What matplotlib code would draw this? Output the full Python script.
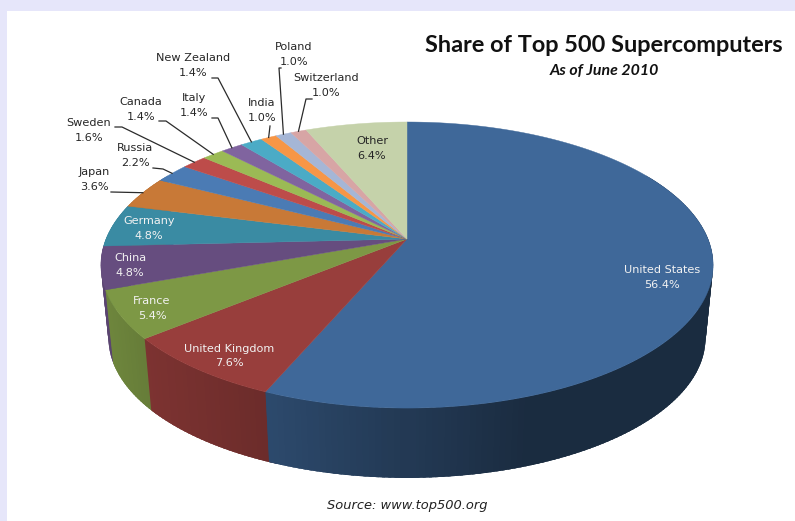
import numpy as np
import matplotlib
matplotlib.use("Agg")
import matplotlib.pyplot as plt
from matplotlib.patches import Rectangle

# Share of the Top 500 list by country, clockwise from 12 o'clock
countries = ['United States', 'United Kingdom', 'France', 'China', 'Germany', 'Japan', 'Russia',
             'Sweden', 'Canada', 'Italy', 'New Zealand', 'India', 'Poland', 'Switzerland', 'Other']
shares = [56.4, 7.6, 5.4, 4.8, 4.8, 3.6, 2.2, 1.6, 1.4, 1.4, 1.4, 1.0, 1.0, 1.0, 6.4]

top_colors = ['#3f6899', '#983e3c', '#7d9845', '#664d7f', '#3a8ba3', '#c87937', '#4b7bb4',
              '#bd4c4a', '#9bba55', '#80649f', '#4babc6', '#f79646', '#a5b6d6', '#d7a5a5', '#c5d2aa']

# label centres in pixels
label_x = [662, 229, 152, 130, 149, 94, 135, 89, 141, 194, 193, 262, 294, 326, 372]
label_y = [277.5, 356, 308.5, 265.5, 228.5, 179.5, 155.5, 130.5, 109.5, 105.5, 65.5, 110.5, 54.5, 85.5, 148.5]
label_white = ['United States', 'United Kingdom', 'France', 'China', 'Germany']

# leader line elbows for the small slices, the last point is added from the slice itself
leaders = {
    'Japan': [(111, 192)],
    'Russia': [(153, 168), (163, 169)],
    'Sweden': [(115, 127), (122, 127)],
    'Canada': [(159, 121), (166, 121)],
    'Italy': [(212, 118), (218, 118)],
    'New Zealand': [(212, 78), (218, 78)],
    'India': [(270, 126)],
    'Poland': [(281, 68), (279, 68)],
    'Switzerland': [(312, 99), (306, 99)],
}

# projection of the tilted disc
CX, CY = 407, 239
RX, RY = 301, 138.3
PERSP = 0.182
WALL_SCALE = 0.975
WALL_DROP = 74


def rim(theta_deg, r=1.0):
    t = np.radians(theta_deg)
    x = r * np.sin(t)
    y = r * np.cos(t)
    w = 1 + PERSP * y
    return CX + RX * x / w, CY - RY * y / w


def rim_bottom(theta_deg):
    x, y = rim(theta_deg)
    return CX + (x - CX) * WALL_SCALE, CY + (y - CY) * WALL_SCALE + WALL_DROP


def wall_shade(x):
    return np.interp(x, [110, 150, 270, 520, 710], [0.88, 0.82, 0.71, 0.42, 0.42])


fig = plt.figure(figsize=(7.95, 5.21), dpi=100, facecolor='#e6e6fa')
ax = fig.add_axes([0, 0, 1, 1])
ax.set_xlim(0, 795)
ax.set_ylim(521, 0)
ax.axis('off')
ax.add_patch(Rectangle((7, 11), 788, 510, facecolor='white', edgecolor='none', zorder=0))

edges = np.concatenate([[0], np.cumsum(shares)]) * 3.6

# side wall in narrow strips so the shading runs across it; far strips go first
# and each one runs on under its nearer neighbour, which hides the seams
strips = []
for i in range(len(shares)):
    lo, hi = max(edges[i], 60), min(edges[i + 1], 300)
    if hi <= lo:
        continue
    steps = np.append(np.arange(lo, hi, 1.0), hi)
    base = np.array(matplotlib.colors.to_rgb(top_colors[i]))
    for a, b in zip(steps[:-1], steps[1:]):
        near_a, near_b = (a, b + 1.5) if (a + b) / 2 < 180 else (a - 1.5, b)
        x1, y1 = rim(near_a)
        x2, y2 = rim(near_b)
        x3, y3 = rim_bottom(near_b)
        x4, y4 = rim_bottom(near_a)
        c = base * wall_shade((x1 + x2 + x3 + x4) / 4)
        order = rim((a + b) / 2)[1]
        strips.append((order, [x1, x2, x3, x4], [y1, y2, y3, y4], c))

for order, xs, ys, c in sorted(strips, key=lambda s: s[0]):
    ax.fill(xs, ys, facecolor=c, edgecolor='none', lw=0, zorder=1)

# top face
for i in range(len(shares)):
    t = np.linspace(edges[i], edges[i + 1], max(int(edges[i + 1] - edges[i]) * 2, 6))
    x, y = rim(t)
    ax.fill(np.r_[CX, x], np.r_[CY, y], color=top_colors[i], lw=0.3, zorder=2)

# labels
for name, share, lx, ly in zip(countries, shares, label_x, label_y):
    col = '#f2f2f2' if name in label_white else '#262626'
    ax.text(lx, ly, f'{name}\n{share:.1f}%', ha='center', va='center', fontsize=8.1,
            color=col, linespacing=1.55, zorder=4)

# leaders end on the rim at the middle of each slice
for i, name in enumerate(countries):
    if name in leaders:
        ex, ey = rim((edges[i] + edges[i + 1]) / 2)
        pts = leaders[name] + [(float(ex), float(ey))]
        ax.plot([p[0] for p in pts], [p[1] for p in pts], color='#2b2b2b', lw=0.9, zorder=3)

ax.text(604, 45, 'Share of Top 500 Supercomputers', ha='center', va='center',
        fontsize=16.9, fontweight='bold', family='Lato', color='#111111')
ax.text(604, 71, 'As of June 2010', ha='center', va='center', fontsize=11.4,
        fontweight='bold', style='italic', family='Lato', color='#111111')
ax.text(407, 506, 'Source: www.top500.org', ha='center', va='center', fontsize=9.4,
        style='italic', color='#222222')

fig.savefig('out.png', dpi=100, facecolor=fig.get_facecolor())
